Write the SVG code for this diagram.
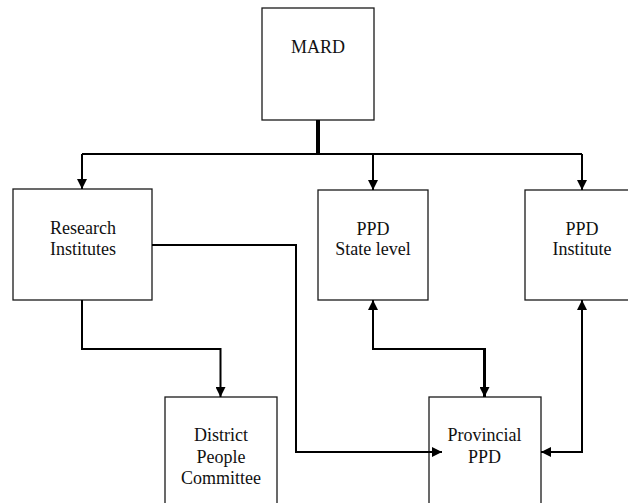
<svg xmlns="http://www.w3.org/2000/svg" width="628" height="503" viewBox="0 0 628 503">
<style>
.box{fill:#fff;stroke:#1a1a1a;stroke-width:1.3}
.lbl{font-family:'Liberation Serif','Times New Roman','DejaVu Serif',serif;font-size:18px;fill:#111;text-anchor:middle}
.con{fill:none;stroke:#000;stroke-width:2}
</style>
<defs>
<marker id="arr" markerUnits="userSpaceOnUse" markerWidth="11" markerHeight="10" refX="10" refY="5" orient="auto-start-reverse" viewBox="0 0 11 10">
<path d="M0,0 L10,5 L0,10 z" fill="#000"/>
</marker>
</defs>
<rect width="628" height="503" fill="#fff"/>
<g id="mard">
<rect class="box" x="262" y="8" width="112" height="112"/>
<text class="lbl" x="318" y="53" font-family="Liberation Serif, serif">MARD</text>
</g>
<g id="research">
<rect class="box" x="13" y="189" width="139" height="111"/>
<text class="lbl" x="83" y="234" font-family="Liberation Serif, serif">Research</text>
<text class="lbl" x="83" y="255" font-family="Liberation Serif, serif">Institutes</text>
</g>
<g id="ppd-state">
<rect class="box" x="318" y="190" width="110" height="110"/>
<text class="lbl" x="373" y="235" font-family="Liberation Serif, serif">PPD</text>
<text class="lbl" x="373" y="255" font-family="Liberation Serif, serif">State level</text>
</g>
<g id="ppd-institute">
<rect class="box" x="525" y="190" width="112" height="110"/>
<text class="lbl" x="582" y="235" font-family="Liberation Serif, serif">PPD</text>
<text class="lbl" x="582" y="255" font-family="Liberation Serif, serif">Institute</text>
</g>
<g id="district">
<rect class="box" x="165" y="397" width="112" height="112"/>
<text class="lbl" x="221" y="441" font-family="Liberation Serif, serif">District</text>
<text class="lbl" x="221" y="463" font-family="Liberation Serif, serif">People</text>
<text class="lbl" x="221" y="484" font-family="Liberation Serif, serif">Committee</text>
</g>
<g id="provincial">
<rect class="box" x="429" y="397" width="112" height="112"/>
<text class="lbl" x="484.5" y="441" font-family="Liberation Serif, serif">Provincial</text>
<text class="lbl" x="484.5" y="463" font-family="Liberation Serif, serif">PPD</text>
</g>
<g id="connectors">
<line x1="318" y1="120" x2="318" y2="155" stroke="#000" stroke-width="4"/>
<path class="con" d="M82,154 H582"/>
<path class="con" d="M82,154 V189" marker-end="url(#arr)"/>
<path class="con" d="M373,154 V190" marker-end="url(#arr)"/>
<path class="con" d="M582,154 V190" marker-end="url(#arr)"/>
<path class="con" d="M152,245 H296 V452 H442" marker-end="url(#arr)"/>
<path class="con" d="M82,300 V349 H220.5 V397" marker-end="url(#arr)"/>
<path class="con" d="M373,349 V300" marker-end="url(#arr)"/>
<path class="con" d="M372,349 H485"/>
<path class="con" style="stroke-width:3" d="M484.5,348 V397" marker-end="url(#arr)"/>
<path class="con" d="M582,300 V452 H541" marker-start="url(#arr)" marker-end="url(#arr)"/>
</g>
</svg>
